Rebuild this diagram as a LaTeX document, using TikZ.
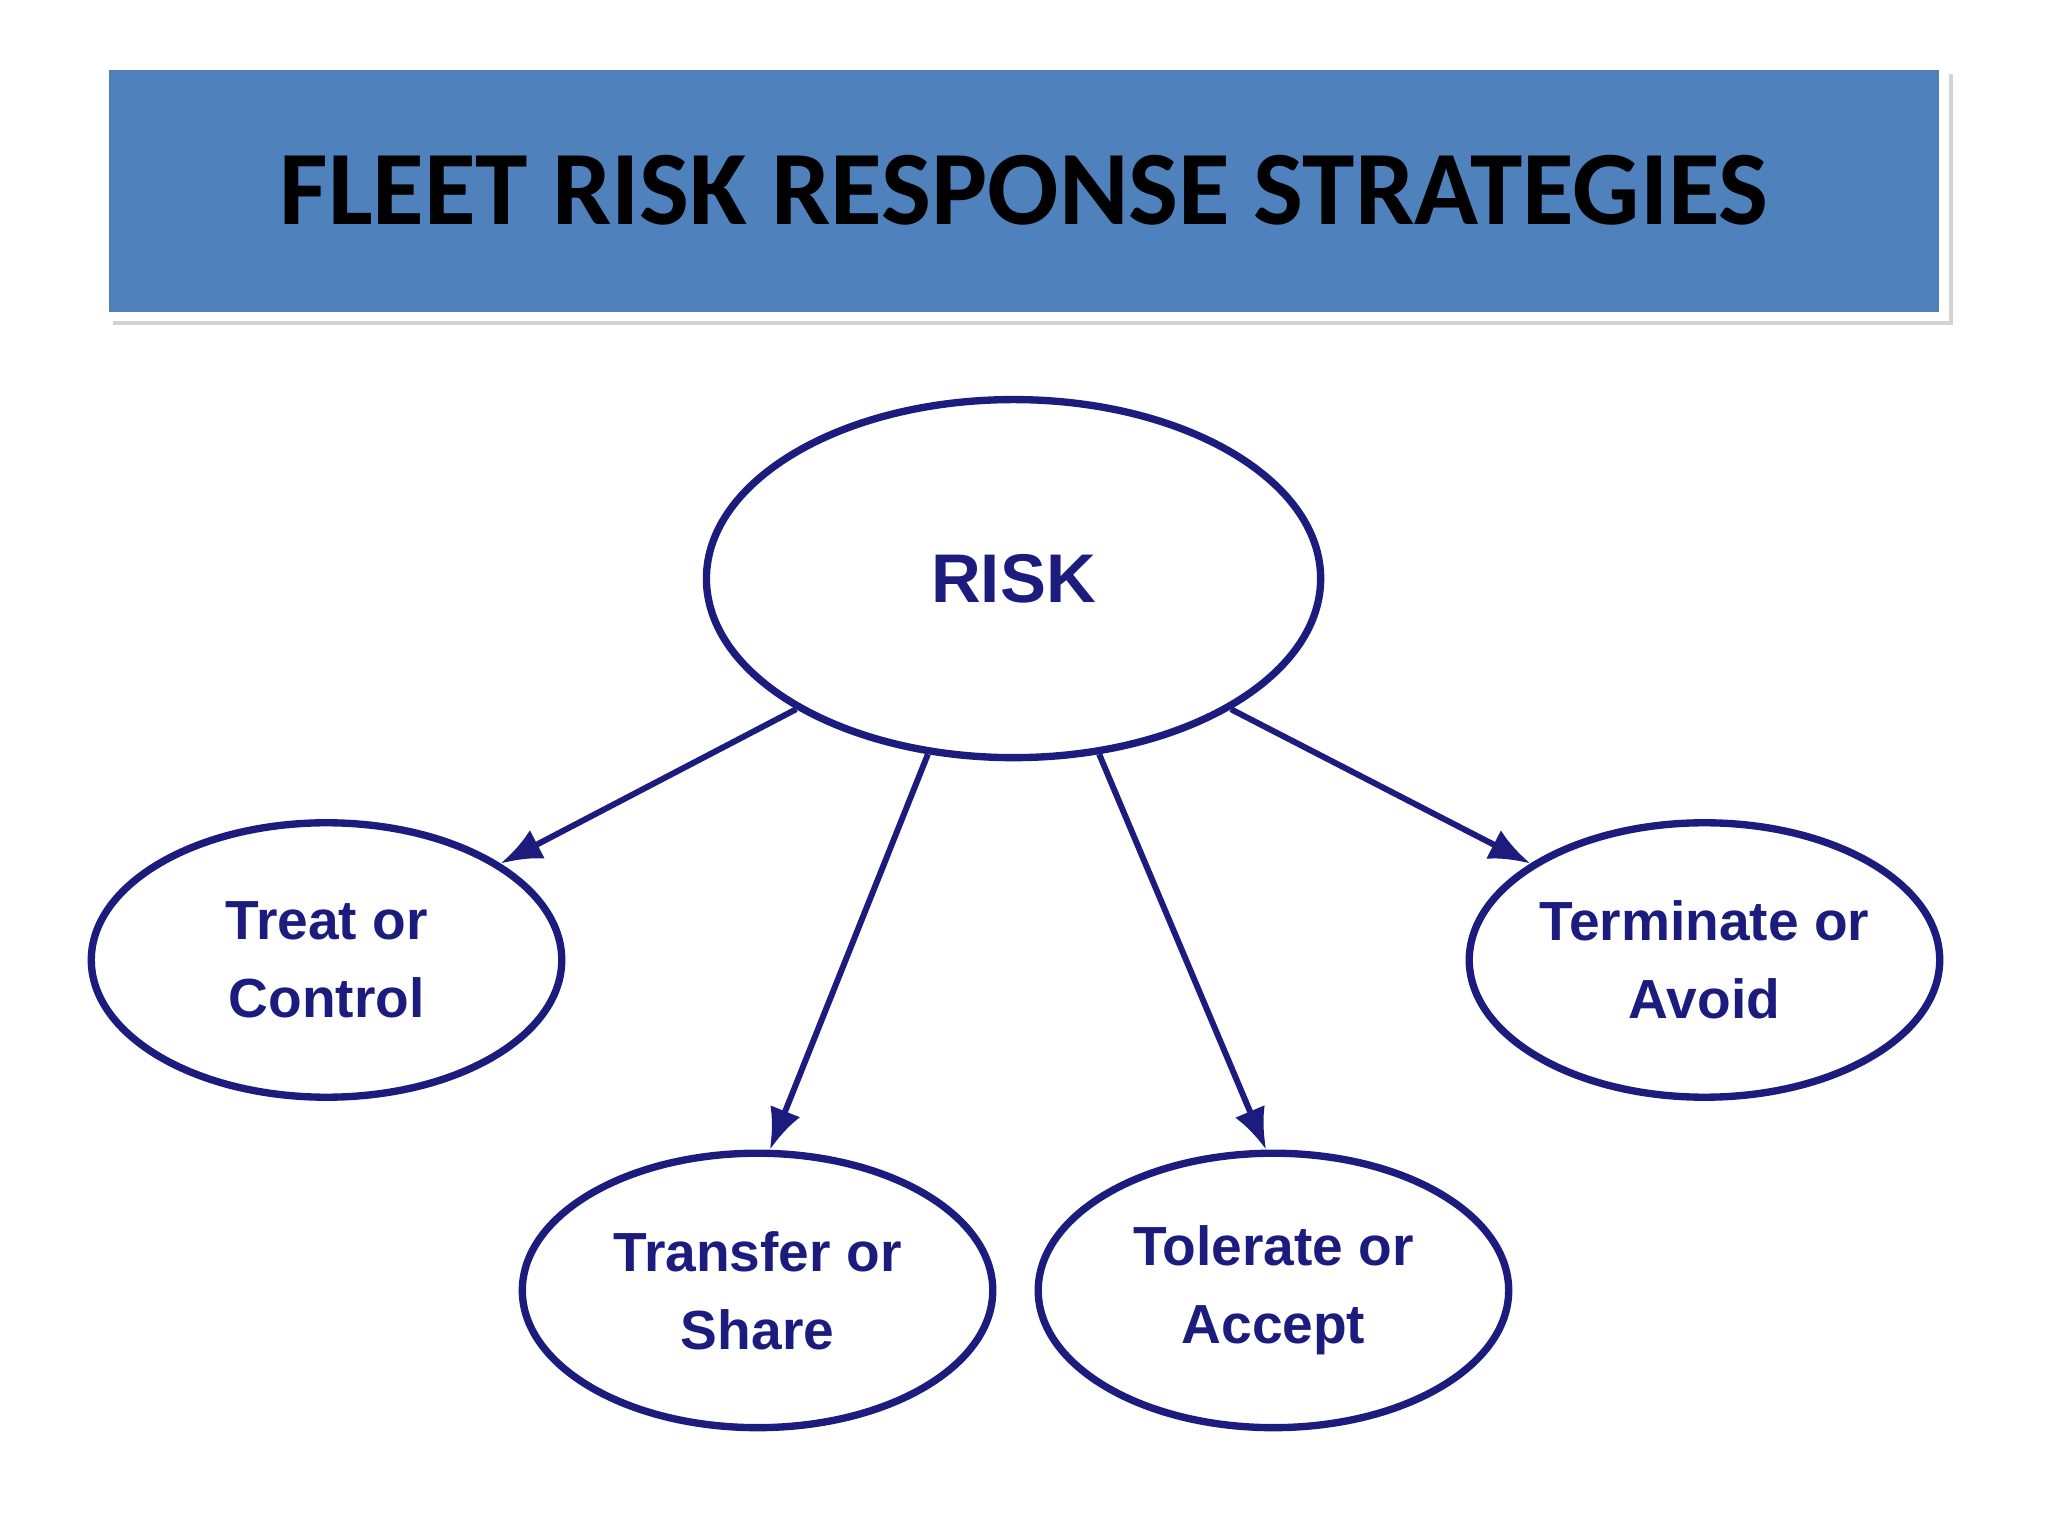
\documentclass[tikz,border=0pt]{standalone}
\usepackage{fontspec}
\setmainfont{Carlito}
\newfontfamily\lbl{Liberation Sans}
\usetikzlibrary{shapes.geometric,arrows.meta,shadows}
\definecolor{titleblue}{HTML}{4F81BD}
\definecolor{navy}{HTML}{1C1C7E}
\tikzset{
 oval/.style={ellipse,draw=navy,line width=1.6pt,inner sep=0pt,text=navy,font=\lbl\bfseries\fontsize{12}{17}\selectfont,align=center},
 link/.style={draw=navy,line width=1.3pt,-{Latex[length=9pt,width=7pt]}}
}
\begin{document}
\begin{tikzpicture}[x=0.01cm,y=-0.01cm]
\useasboundingbox (0,0) rectangle (1568,1176);
\node[draw=white,line width=2pt,fill=titleblue,minimum width=1408\pgflinewidth*0+14.08cm,minimum height=1.92cm,drop shadow={opacity=0.35,shadow xshift=2pt,shadow yshift=-2pt},font=\bfseries\fontsize{23}{28}\selectfont] (title) at (784,146) {FLEET RISK RESPONSE STRATEGIES};
\node[oval,minimum width=4.7cm,minimum height=2.74cm,font=\lbl\bfseries\fontsize{15}{18}\selectfont] (risk) at (776,443) {RISK};
\node[oval,minimum width=3.6cm,minimum height=2.1cm] (treat) at (250,735) {Treat or\\Control};
\node[oval,minimum width=3.6cm,minimum height=2.1cm] (transfer) at (580,988) {Transfer or\\Share};
\node[oval,minimum width=3.6cm,minimum height=2.1cm] (tolerate) at (975,988) {Tolerate or\\Accept};
\node[oval,minimum width=3.6cm,minimum height=2.1cm] (terminate) at (1305,735) {Terminate or\\Avoid};
\draw[link] (risk.211) -- (treat.29);
\draw[link] (risk.244) -- (transfer.85);
\draw[link] (risk.296) -- (tolerate.93);
\draw[link] (risk.329) -- (terminate.151);
\end{tikzpicture}
\end{document}
